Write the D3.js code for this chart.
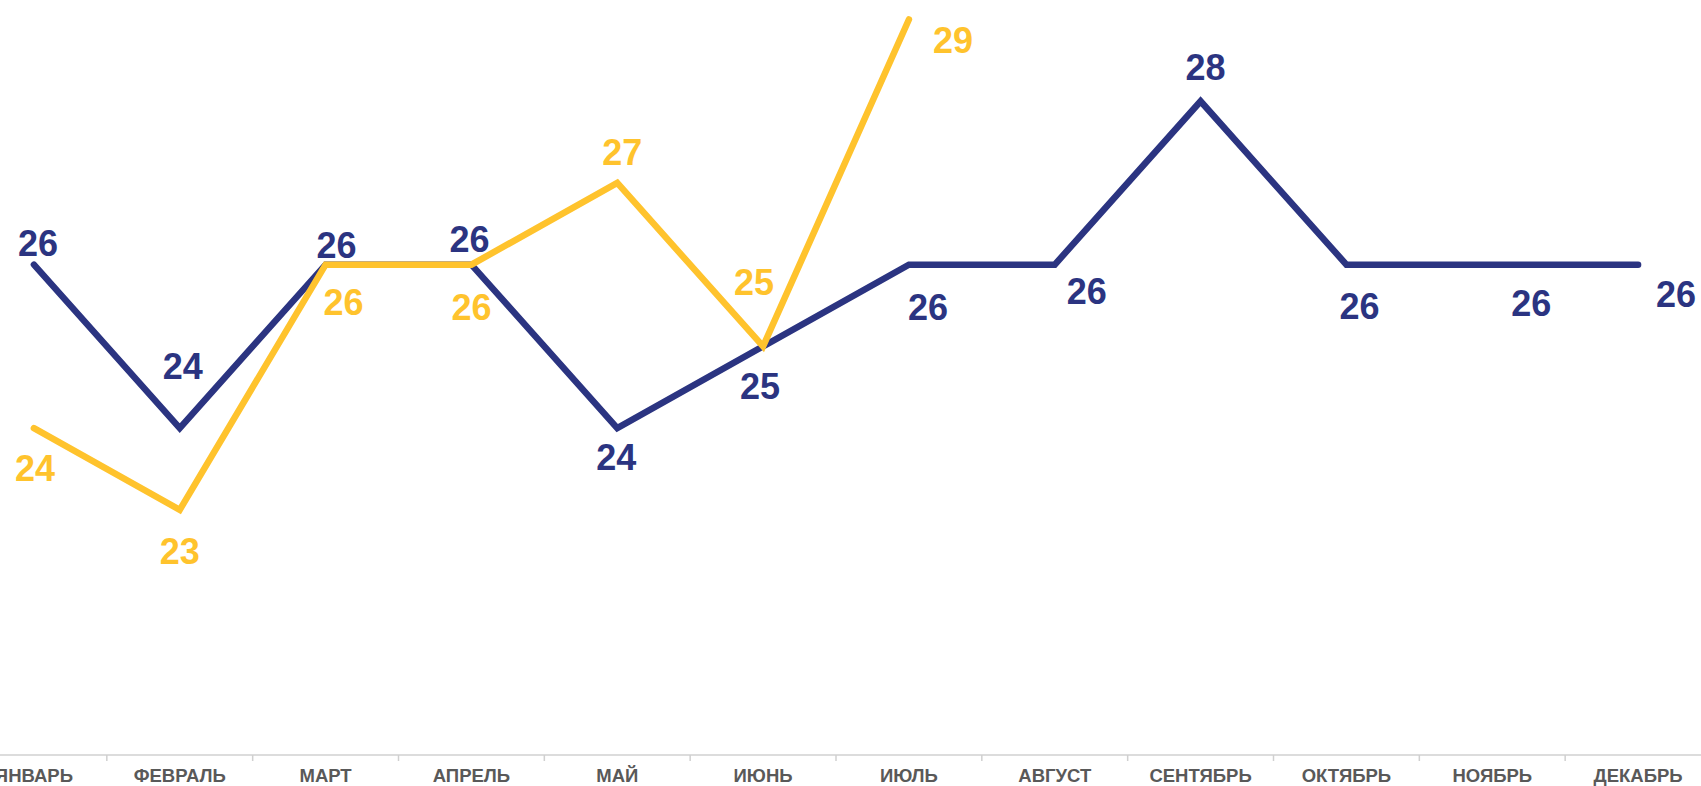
<!DOCTYPE html>
<html lang="ru">

<head>
	<meta charset="UTF-8" />
	<script src="https://d3js.org/d3.v7.min.js"></script>
	<style>
		body { margin: 0; background: #ffffff; }
		svg { display: block; }
	</style>
</head>

<body>
	<svg width="1701" height="786"></svg>

	<script>
		////////////
		// data
		////////////
		var months = ['ЯНВАРЬ', 'ФЕВРАЛЬ', 'МАРТ', 'АПРЕЛЬ', 'МАЙ', 'ИЮНЬ',
			'ИЮЛЬ', 'АВГУСТ', 'СЕНТЯБРЬ', 'ОКТЯБРЬ', 'НОЯБРЬ', 'ДЕКАБРЬ']
		var blueValues = [26, 24, 26, 26, 24, 25, 26, 26, 28, 26, 26, 26]
		var yellowValues = [24, 23, 26, 26, 27, 25, 29]

		// label nudges (layout only), [dx, dy] from each point
		var blueLabelPos = [[4, -22], [3, -62], [11, -20], [-2, -26], [-1, 29], [-3, 40],
			[19, 42], [32, 26], [5, -34], [13, 41], [39, 38], [38, 29]]
		var yellowLabelPos = [[1, 40], [0, 41], [18, 37], [0, 42], [5, -31], [-9, -64], [44, 21]]

		var blueColor = '#2b3481'
		var yellowColor = '#ffc32d'

		////////////
		// scales
		////////////
		var svg = d3.select('svg')
		var axisY = 755

		var x = d3.scaleBand()
			.domain(months)
			.range([-39, 1711])
			.paddingInner(0)

		var y = d3.scaleLinear()
			.domain([20, 29])
			.range([axisY, 19.5])

		function cx(i) { return x(months[i]) + x.bandwidth() / 2 }

		////////////
		// x axis
		////////////
		var axis = d3.axisBottom(x).tickSize(0).tickPadding(13)
		var gAxis = svg.append('g')
			.attr('transform', 'translate(0,' + axisY + ')')
			.call(axis)
		gAxis.select('.domain')
			.attr('d', 'M0,0H1701')
			.attr('stroke', '#d0d0d0')
			.attr('stroke-width', 1.5)
		gAxis.selectAll('text')
			.attr('fill', '#595959')
			.attr('font-family', '"Liberation Sans", Arial, sans-serif')
			.attr('font-weight', 'bold')
			.attr('font-size', 18.5)
			.attr('dy', '0.75em')

		// separators between months
		gAxis.selectAll('line.sep')
			.data(months.slice(1))
			.enter().append('line')
			.attr('class', 'sep')
			.attr('x1', function(d) { return x(d) })
			.attr('x2', function(d) { return x(d) })
			.attr('y1', 0)
			.attr('y2', 6)
			.attr('stroke', '#d0d0d0')
			.attr('stroke-width', 1.5)

		////////////
		// lines
		////////////
		var line = d3.line()
			.x(function(d, i) { return cx(i) })
			.y(function(d) { return y(d) })

		function drawSeries(values, color, pos) {
			svg.append('path')
				.datum(values)
				.attr('d', line)
				.attr('fill', 'none')
				.attr('stroke', color)
				.attr('stroke-width', 6.5)
				.attr('stroke-linejoin', 'miter')
				.attr('stroke-linecap', 'round')

			svg.append('g').selectAll('text')
				.data(values)
				.enter().append('text')
				.attr('x', function(d, i) { return cx(i) + pos[i][0] })
				.attr('y', function(d, i) { return y(d) + pos[i][1] })
				.attr('dy', '0.36em')
				.attr('text-anchor', 'middle')
				.attr('fill', color)
				.attr('font-family', '"Liberation Sans", Arial, sans-serif')
				.attr('font-weight', 'bold')
				.attr('font-size', 36)
				.text(function(d) { return d })
		}

		drawSeries(blueValues, blueColor, blueLabelPos)
		drawSeries(yellowValues, yellowColor, yellowLabelPos)
	</script>
</body>

</html>
